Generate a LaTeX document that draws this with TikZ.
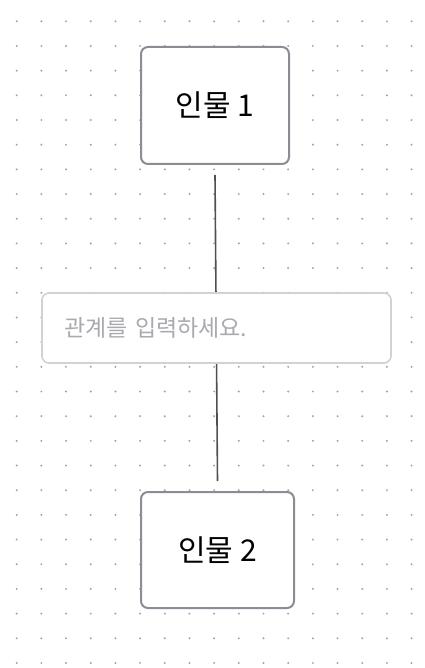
\documentclass[tikz,border=0pt]{standalone}
\usepackage{fontspec}
\newfontfamily\krfont{Noto Sans CJK KR}
\definecolor{dotgray}{HTML}{A4A4A8}
\definecolor{boxgray}{HTML}{8C8C94}
\definecolor{relgray}{HTML}{D2D2D6}
\definecolor{phgray}{HTML}{A9A9B0}
\definecolor{linegray}{HTML}{505050}
\tikzset{
  person/.style={draw=boxgray, line width=2pt, fill=white, rounded corners=7pt,
    inner sep=0pt, font=\krfont\fontsize{30}{34}\selectfont, text=black},
  relbox/.style={draw=relgray, line width=1.6pt, fill=white, rounded corners=7pt,
    inner sep=0pt, inner xsep=22pt, text width=305pt, align=left,
    minimum width=349pt, minimum height=70pt,
    font=\krfont\fontsize{23}{27}\selectfont, text=phgray},
  link/.style={draw=linegray, line width=1.6pt}
}
\begin{document}
\begin{tikzpicture}[x=1pt,y=-1pt]
\useasboundingbox (0,0) rectangle (424,668);
\fill[white] (0,0) rectangle (424,668);
\foreach \i in {0,...,16}{
  \foreach \j in {0,...,26}{
    \fill[dotgray] ({16.7+24.68*\i},{21.3+24.68*\j}) circle (1.1pt);
  }
}
\node[person, minimum width=148pt, minimum height=117pt] (p1) at (215,105.5) {인물 1};
\node[person, minimum width=153pt, minimum height=116pt] (p2) at (217.5,550) {인물 2};
\draw[link] ([yshift=-10pt]p1.south) -- ([yshift=10pt]p2.north);
\node[relbox] (rel) at (216.5,328) {관계를 입력하세요.};
\end{tikzpicture}
\end{document}
